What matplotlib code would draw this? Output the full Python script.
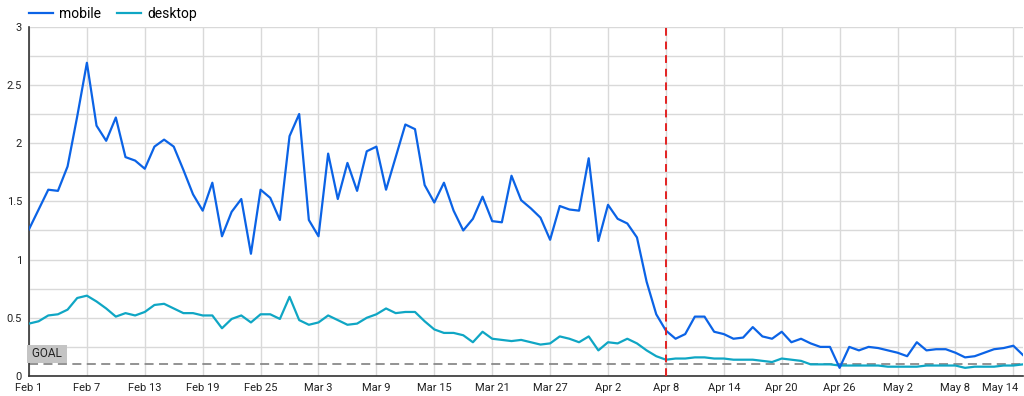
import matplotlib
matplotlib.use("Agg")
import matplotlib.pyplot as plt
import matplotlib.transforms as mtransforms
import pandas as pd

plt.rcParams['font.family'] = ['Roboto', 'DejaVu Sans']

# daily values, Feb 1 - May 15
dates = pd.date_range('2023-02-01', '2023-05-15', freq='D')

mobile = [
    1.26, 1.43, 1.60, 1.59, 1.80, 2.23, 2.69, 2.15, 2.02, 2.22,
    1.88, 1.85, 1.78, 1.97, 2.03, 1.97, 1.77, 1.56, 1.42, 1.66,
    1.20, 1.41, 1.52, 1.05, 1.60, 1.53, 1.34, 2.06, 2.25, 1.34,
    1.20, 1.91, 1.52, 1.83, 1.59, 1.93, 1.97, 1.60, 1.88, 2.16,
    2.12, 1.64, 1.49, 1.66, 1.42, 1.25, 1.35, 1.54, 1.33, 1.32,
    1.72, 1.51, 1.44, 1.36, 1.17, 1.46, 1.43, 1.42, 1.87, 1.16,
    1.47, 1.35, 1.31, 1.19, 0.81, 0.53, 0.39, 0.32, 0.36, 0.51,
    0.51, 0.38, 0.36, 0.32, 0.33, 0.42, 0.34, 0.32, 0.38, 0.29,
    0.32, 0.28, 0.25, 0.25, 0.07, 0.25, 0.22, 0.25, 0.24, 0.22,
    0.20, 0.17, 0.29, 0.22, 0.23, 0.23, 0.20, 0.16, 0.17, 0.20,
    0.23, 0.24, 0.26, 0.18,
]

desktop = [
    0.45, 0.47, 0.52, 0.53, 0.57, 0.67, 0.69, 0.64, 0.58, 0.51,
    0.54, 0.52, 0.55, 0.61, 0.62, 0.58, 0.54, 0.54, 0.52, 0.52,
    0.41, 0.49, 0.52, 0.46, 0.53, 0.53, 0.49, 0.68, 0.48, 0.44,
    0.46, 0.52, 0.48, 0.44, 0.45, 0.50, 0.53, 0.58, 0.54, 0.55,
    0.55, 0.47, 0.40, 0.37, 0.37, 0.35, 0.29, 0.38, 0.32, 0.31,
    0.30, 0.31, 0.29, 0.27, 0.28, 0.34, 0.32, 0.29, 0.34, 0.22,
    0.29, 0.28, 0.32, 0.28, 0.22, 0.17, 0.14, 0.15, 0.15, 0.16,
    0.16, 0.15, 0.15, 0.14, 0.14, 0.14, 0.13, 0.12, 0.15, 0.14,
    0.13, 0.10, 0.10, 0.10, 0.09, 0.09, 0.09, 0.09, 0.09, 0.08,
    0.08, 0.08, 0.08, 0.09, 0.09, 0.09, 0.09, 0.07, 0.08, 0.08,
    0.08, 0.09, 0.09, 0.10,
]

goal = 0.1
marker_date = pd.Timestamp('2023-04-08')

fig = plt.figure(figsize=(10.24, 3.96), dpi=100)
ax = fig.add_axes([0.0283, 0.0505, 0.9707, 0.8821])

ax.plot(dates, mobile, color='#0b63e6', lw=1.6, label='mobile', zorder=4)
ax.plot(dates, desktop, color='#0fa6c4', lw=1.6, label='desktop', zorder=3)

ax.axhline(goal, color='#8a8a8a', lw=1.3, ls=(0, (5, 3)), zorder=2)
ax.text(dates[0], goal + 0.035, ' GOAL ', fontsize=8.5, color='#222222',
        va='bottom', ha='left',
        bbox=dict(boxstyle='square,pad=0.2', fc='#c4c4c4', ec='none'))
ax.axvline(marker_date, color='#e32222', lw=1.4, ls=(0, (4, 3)), zorder=5)

ax.set_xlim(dates[0], dates[-1])
ax.set_ylim(0, 3)
ticks = dates[::6]
ax.set_xticks(ticks)
ax.set_xticklabels([f"{d:%b} {d.day}" for d in ticks])
ax.set_yticks([0, 0.5, 1, 1.5, 2, 2.5, 3])
ax.set_yticklabels(['0', '0.5', '1', '1.5', '2', '2.5', '3'])
ax.set_yticks([0.25, 0.75, 1.25, 1.75, 2.25, 2.75], minor=True)
ax.tick_params(axis='both', length=0, labelsize=8, colors='#222222', pad=5)
ax.tick_params(axis='y', which='minor', length=0)

# last date label is pushed inside the figure, like the original
last = ax.get_xticklabels()[-1]
last.set_horizontalalignment('right')
last.set_transform(last.get_transform() +
                   mtransforms.ScaledTranslation(5 / 100, 0, fig.dpi_scale_trans))

ax.grid(True, which='both', color='#d9d9d9', lw=1, zorder=0)
ax.grid(False, axis='x', which='minor')
ax.set_axisbelow(True)
for side in ['top', 'right']:
    ax.spines[side].set_visible(False)
for side in ['left', 'bottom']:
    ax.spines[side].set_color('#333333')
    ax.spines[side].set_linewidth(1.2)

fig.legend(loc='upper left', bbox_to_anchor=(0.016, 1.015), ncol=2,
           frameon=False, fontsize=10, handlelength=1.75, columnspacing=1.1,
           handletextpad=0.45)

fig.savefig('out.png', dpi=100)
